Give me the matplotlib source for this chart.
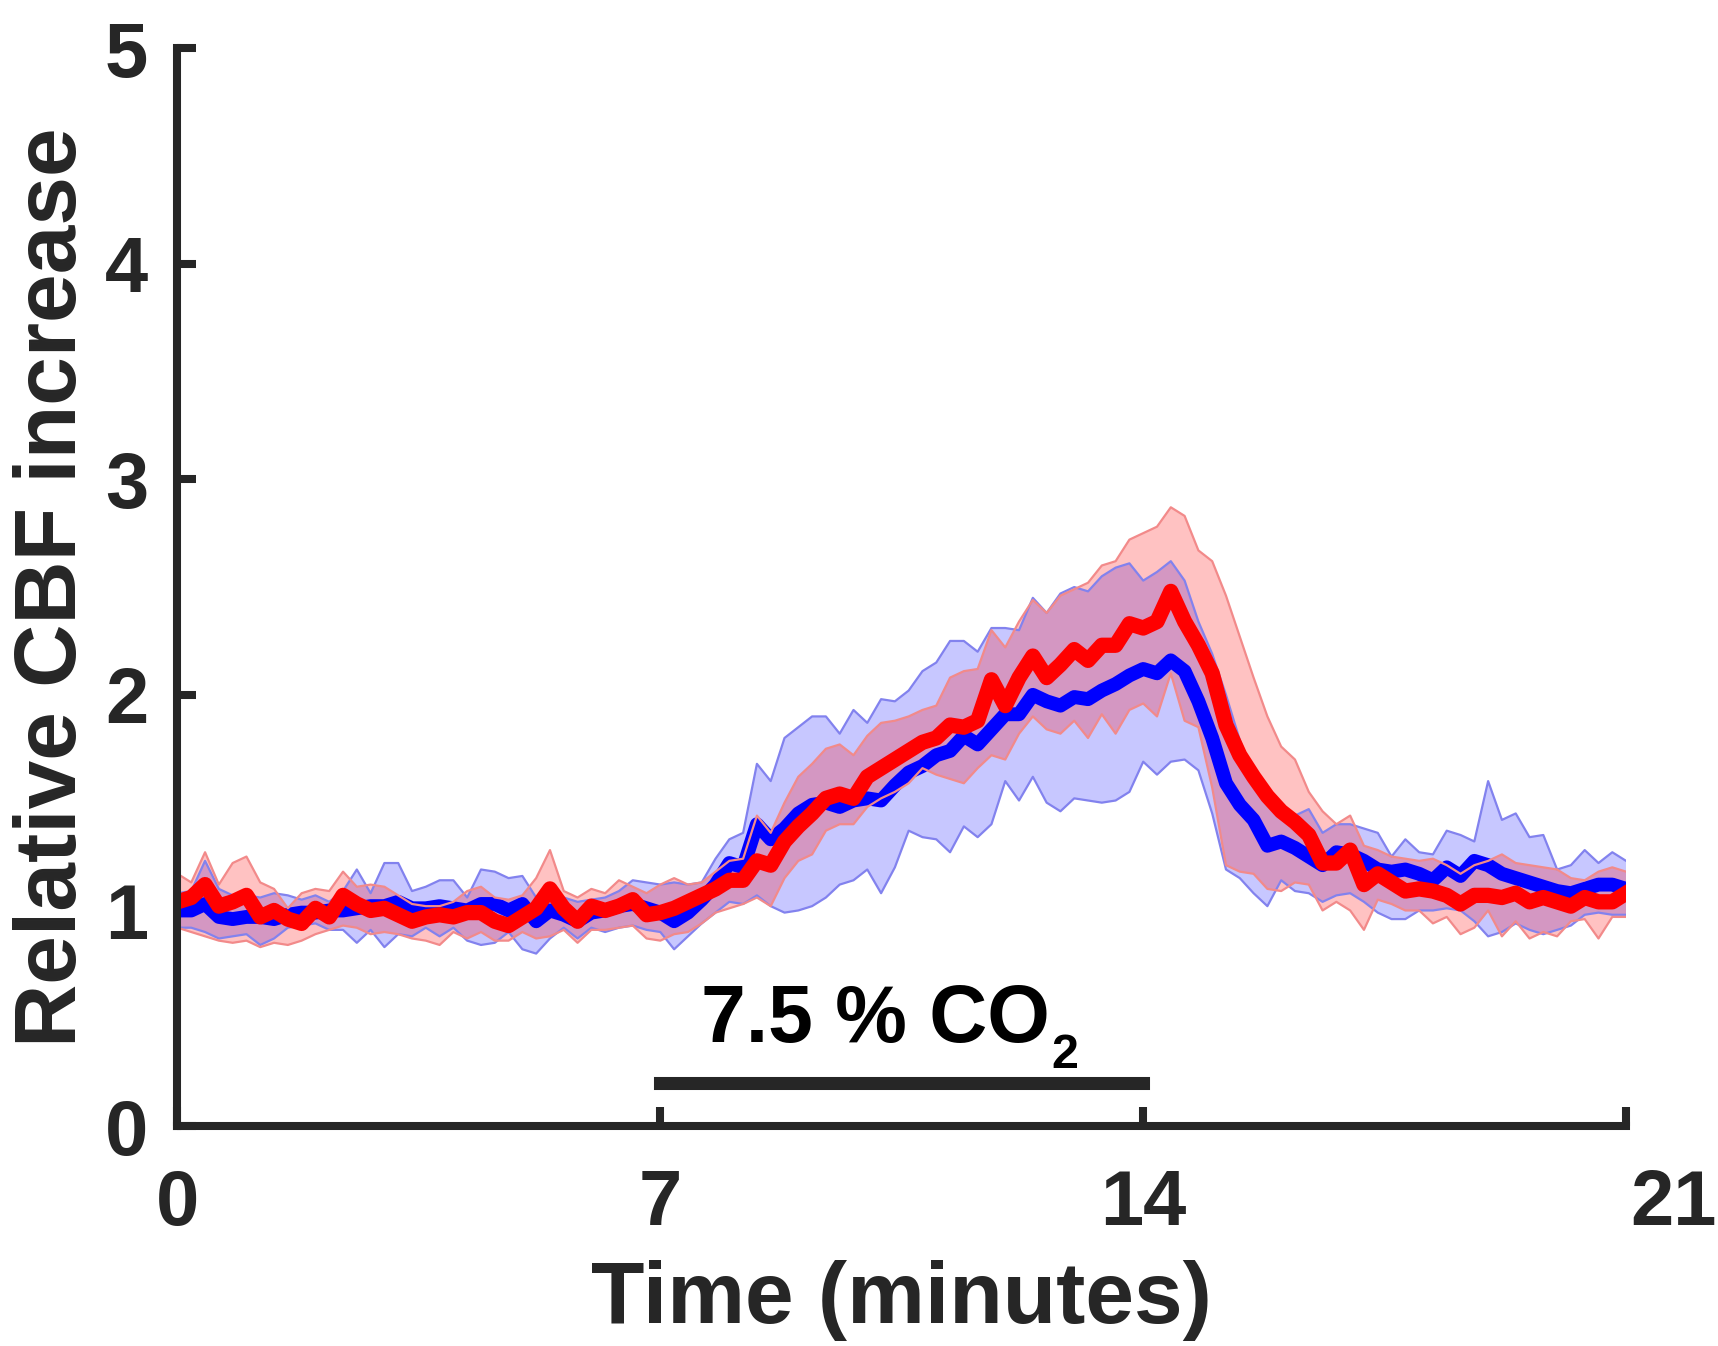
import numpy as np
import matplotlib.pyplot as plt
import matplotlib.transforms as mtransforms

plt.rcParams['font.family'] = ['Liberation Sans', 'DejaVu Sans']
plt.rcParams['font.weight'] = 'bold'

# samples every 0.2 min, 0 .. 21 min
minutes = np.round(np.arange(0, 21.01, 0.2), 1)

# group 1 (blue): mean and band limits
blue_mean = [
    1.00, 1.00, 1.03, 0.97, 0.96, 0.97, 0.97, 0.96, 0.98, 0.99,
    0.99, 1.00, 1.00, 1.01, 1.02, 1.02, 1.04, 1.01, 1.01, 1.02,
    1.01, 1.00, 1.03, 1.03, 1.00, 1.03, 0.95, 1.00, 0.98, 0.95,
    0.99, 1.00, 1.02, 1.03, 1.01, 0.99, 0.95, 0.99, 1.05, 1.12,
    1.22, 1.20, 1.40, 1.33, 1.38, 1.45, 1.49, 1.50, 1.48, 1.51,
    1.52, 1.51, 1.58, 1.64, 1.67, 1.72, 1.74, 1.81, 1.77, 1.84,
    1.91, 1.91, 2.00, 1.97, 1.95, 1.99, 1.98, 2.02, 2.05, 2.09,
    2.12, 2.10, 2.16, 2.11, 1.97, 1.80, 1.59, 1.49, 1.42, 1.30,
    1.32, 1.29, 1.25, 1.21, 1.27, 1.26, 1.23, 1.19, 1.18, 1.19,
    1.17, 1.14, 1.20, 1.16, 1.23, 1.21, 1.17, 1.15, 1.13, 1.11,
    1.09, 1.08, 1.10, 1.12, 1.12, 1.10]
blue_upper = [
    1.08, 1.09, 1.23, 1.10, 1.07, 1.07, 1.06, 1.08, 1.07, 1.05,
    1.07, 1.04, 1.09, 1.19, 1.08, 1.22, 1.22, 1.09, 1.11, 1.14,
    1.14, 1.06, 1.19, 1.18, 1.15, 1.16, 1.06, 1.07, 1.06, 1.04,
    1.05, 1.06, 1.09, 1.14, 1.13, 1.12, 1.13, 1.12, 1.13, 1.24,
    1.33, 1.36, 1.68, 1.60, 1.80, 1.85, 1.90, 1.90, 1.82, 1.93,
    1.87, 1.98, 1.97, 2.02, 2.11, 2.15, 2.25, 2.25, 2.20, 2.31,
    2.31, 2.30, 2.45, 2.38, 2.47, 2.50, 2.48, 2.55, 2.59, 2.61,
    2.53, 2.57, 2.62, 2.53, 2.34, 2.19, 2.00, 1.79, 1.63, 1.54,
    1.45, 1.44, 1.47, 1.36, 1.40, 1.40, 1.38, 1.36, 1.25, 1.33,
    1.27, 1.26, 1.37, 1.35, 1.32, 1.60, 1.42, 1.45, 1.34, 1.35,
    1.19, 1.21, 1.28, 1.22, 1.27, 1.23]
blue_lower = [
    0.92, 0.92, 0.90, 0.87, 0.88, 0.89, 0.84, 0.87, 0.92, 0.93,
    0.94, 0.91, 0.91, 0.85, 0.91, 0.83, 0.89, 0.88, 0.92, 0.88,
    0.92, 0.86, 0.84, 0.85, 0.90, 0.82, 0.80, 0.87, 0.92, 0.87,
    0.92, 0.90, 0.92, 0.93, 0.91, 0.90, 0.82, 0.88, 0.94, 0.99,
    1.04, 1.03, 1.07, 1.02, 0.99, 1.00, 1.02, 1.06, 1.12, 1.14,
    1.19, 1.08, 1.20, 1.37, 1.34, 1.33, 1.27, 1.39, 1.34, 1.40,
    1.60, 1.51, 1.62, 1.50, 1.46, 1.52, 1.51, 1.50, 1.51, 1.55,
    1.69, 1.63, 1.69, 1.70, 1.65, 1.45, 1.19, 1.15, 1.08, 1.02,
    1.14, 1.09, 1.08, 1.04, 1.07, 1.08, 1.04, 0.99, 0.96, 0.96,
    1.00, 1.00, 1.01, 1.00, 0.95, 0.88, 0.90, 0.94, 0.91, 0.89,
    0.91, 0.93, 0.98, 0.99, 0.98, 0.98]

# group 2 (red): mean and band limits
red_mean = [
    1.04, 1.06, 1.12, 1.02, 1.04, 1.07, 0.97, 1.00, 0.96, 0.94,
    1.01, 0.97, 1.07, 1.03, 1.00, 1.01, 0.98, 0.95, 0.97, 0.98,
    0.97, 0.99, 0.99, 0.95, 0.93, 0.97, 1.01, 1.10, 1.01, 0.95,
    1.02, 1.00, 1.02, 1.05, 0.98, 0.99, 1.01, 1.04, 1.07, 1.10,
    1.14, 1.14, 1.23, 1.21, 1.32, 1.39, 1.45, 1.52, 1.54, 1.52,
    1.62, 1.66, 1.70, 1.74, 1.78, 1.80, 1.86, 1.85, 1.88, 2.07,
    1.95, 2.08, 2.18, 2.08, 2.14, 2.21, 2.16, 2.23, 2.23, 2.33,
    2.31, 2.34, 2.48, 2.34, 2.23, 2.10, 1.86, 1.72, 1.62, 1.53,
    1.46, 1.41, 1.35, 1.22, 1.22, 1.28, 1.12, 1.17, 1.13, 1.09,
    1.10, 1.09, 1.07, 1.03, 1.07, 1.07, 1.06, 1.08, 1.04, 1.06,
    1.04, 1.02, 1.06, 1.04, 1.04, 1.08]
red_upper = [
    1.17, 1.13, 1.27, 1.12, 1.22, 1.25, 1.13, 1.10, 1.01, 1.08,
    1.10, 1.09, 1.18, 1.11, 1.12, 1.11, 1.07, 1.03, 1.02, 1.02,
    1.04, 1.09, 1.11, 1.06, 1.05, 1.07, 1.15, 1.28, 1.09, 1.06,
    1.10, 1.08, 1.14, 1.11, 1.08, 1.12, 1.15, 1.12, 1.13, 1.18,
    1.23, 1.24, 1.44, 1.36, 1.50, 1.62, 1.68, 1.75, 1.77, 1.72,
    1.81, 1.87, 1.88, 1.90, 1.93, 1.95, 2.08, 2.11, 2.12, 2.30,
    2.22, 2.34, 2.44, 2.38, 2.46, 2.49, 2.52, 2.60, 2.62, 2.72,
    2.75, 2.78, 2.87, 2.83, 2.67, 2.62, 2.46, 2.27, 2.08, 1.90,
    1.76, 1.70, 1.55, 1.46, 1.40, 1.44, 1.30, 1.28, 1.25, 1.24,
    1.23, 1.24, 1.21, 1.17, 1.21, 1.23, 1.26, 1.22, 1.21, 1.20,
    1.19, 1.15, 1.14, 1.18, 1.20, 1.18]
red_lower = [
    0.92, 0.90, 0.88, 0.86, 0.85, 0.86, 0.83, 0.85, 0.84, 0.86,
    0.89, 0.91, 0.93, 0.92, 0.89, 0.90, 0.89, 0.87, 0.86, 0.84,
    0.90, 0.87, 0.90, 0.86, 0.86, 0.90, 0.87, 0.88, 0.91, 0.85,
    0.91, 0.91, 0.92, 0.93, 0.87, 0.86, 0.89, 0.90, 0.94, 0.99,
    1.01, 1.03, 1.06, 1.02, 1.15, 1.23, 1.26, 1.37, 1.40, 1.40,
    1.48, 1.52, 1.55, 1.59, 1.66, 1.63, 1.61, 1.59, 1.66, 1.72,
    1.70, 1.82, 1.90, 1.84, 1.82, 1.88, 1.80, 1.91, 1.82, 1.93,
    1.96, 1.90, 2.10, 1.88, 1.85, 1.57, 1.21, 1.18, 1.17, 1.10,
    1.09, 1.13, 1.12, 1.00, 1.04, 1.00, 0.91, 1.05, 1.03, 1.00,
    1.00, 0.94, 0.97, 0.89, 0.92, 1.00, 0.88, 0.95, 0.87, 0.90,
    0.88, 0.95, 0.96, 0.87, 0.97, 0.97]

# CO2 challenge period
co2_start, co2_end = 7, 14
co2_bar_level = 0.2

x_ticks = [0, 7, 14, 21]
y_ticks = [0, 1, 2, 3, 4, 5]

dark = '#262626'

fig = plt.figure(figsize=(17.18, 13.46), dpi=100)
ax = fig.add_axes([0.1033, 0.1634, 0.8432, 0.8009])

# blue group: band, edges, mean
ax.fill_between(minutes, blue_lower, blue_upper, facecolor='blue', alpha=0.22, lw=0)
ax.plot(minutes, blue_upper, color='#8282ee', lw=1.6)
ax.plot(minutes, blue_lower, color='#8282ee', lw=1.6)
ax.plot(minutes, blue_mean, color='#0000ff', lw=10)

# red group drawn on top (its band tints the blue line purple)
ax.fill_between(minutes, red_lower, red_upper, facecolor='red', alpha=0.24, lw=0)
ax.plot(minutes, red_upper, color='#f28a8a', lw=1.6)
ax.plot(minutes, red_lower, color='#f28a8a', lw=1.6)
ax.plot(minutes, red_mean, color='#ff0000', lw=11)

# CO2 bar and label
ax.plot([co2_start, co2_end], [co2_bar_level, co2_bar_level], color=dark,
        lw=9.4, solid_capstyle='projecting')
co2_txt = ax.text(10.12, 0.39, '7.5 % CO', fontsize=58, fontweight='bold',
                  color='black', ha='center', va='baseline')
ax.annotate('2', xy=(1, 0), xycoords=co2_txt, xytext=(1, -6.5),
            textcoords='offset points', fontsize=35, fontweight='bold',
            color='black', ha='left', va='baseline')

ax.set_xlim(0, 21)
ax.set_ylim(0, 5)
ax.set_xticks(x_ticks)
ax.set_yticks(y_ticks)
ax.set_xticklabels([str(v) for v in x_ticks])

for side in ['top', 'right']:
    ax.spines[side].set_visible(False)
for side in ['left', 'bottom']:
    ax.spines[side].set_linewidth(5.8)
    ax.spines[side].set_color(dark)

ax.tick_params(direction='in', length=14, width=5.8, color=dark,
               labelsize=56, labelcolor=dark)
ax.tick_params(axis='x', pad=30)
ax.tick_params(axis='y', pad=21)

ax.set_xlabel('Time (minutes)', fontsize=63, fontweight='bold', color=dark, labelpad=14)
ax.set_ylabel('Relative CBF increase', fontsize=63, fontweight='bold', color=dark, labelpad=8)

# last x label sits a bit to the right of its tick in the original
last = ax.get_xticklabels()[-1]
last.set_transform(last.get_transform() +
                   mtransforms.ScaledTranslation(0.47, 0, fig.dpi_scale_trans))

fig.savefig('out.png', dpi=100)
